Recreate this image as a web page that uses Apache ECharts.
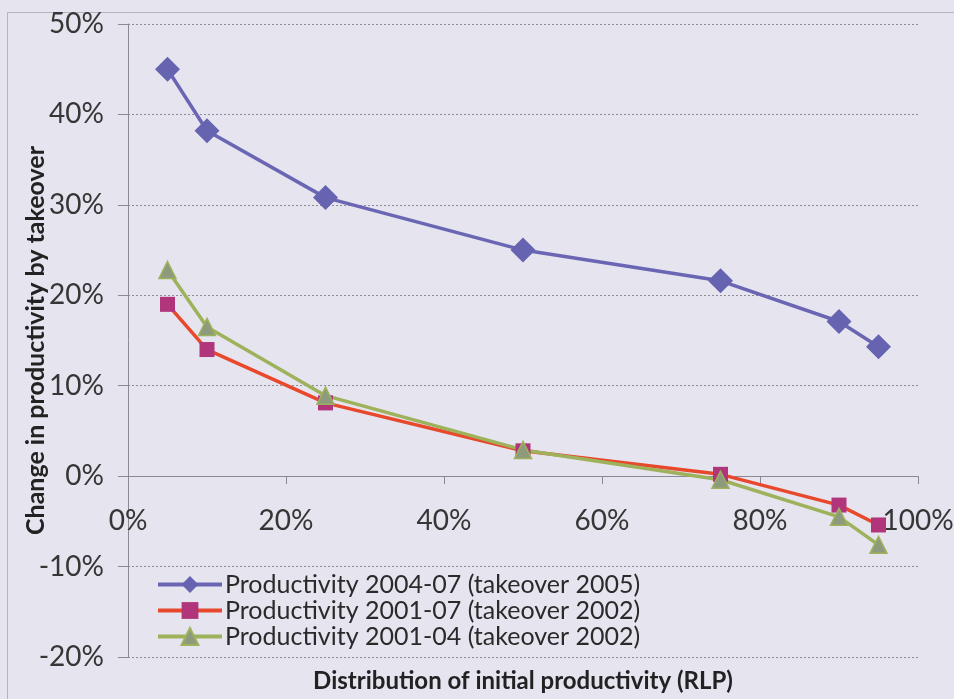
<!DOCTYPE html>
<html>
<head>
<meta charset="utf-8">
<script src="https://cdn.jsdelivr.net/npm/echarts@6/dist/echarts.min.js"></script>
<style>
  html, body { margin: 0; padding: 0; background: #e5e4ef; }
  #chart { width: 954px; height: 699px; }
</style>
</head>
<body>
<div id="chart"></div>
<script>
// Percentile of the initial productivity distribution (RLP)
const percentiles = [0.05, 0.10, 0.25, 0.50, 0.75, 0.90, 0.95];

// Change in productivity attributable to takeover, per percentile
const prod0407 = [0.450, 0.382, 0.308, 0.250, 0.216, 0.171, 0.143];
const prod0107 = [0.190, 0.140, 0.081, 0.028, 0.002, -0.032, -0.054];
const prod0104 = [0.228, 0.165, 0.089, 0.029, -0.004, -0.045, -0.076];

const seriesNames = [
  'Productivity 2004-07 (takeover 2005)',
  'Productivity 2001-07 (takeover 2002)',
  'Productivity 2001-04 (takeover 2002)'
];

const Y_MIN = -0.2, Y_MAX = 0.5;
const GRID = { left: 128, right: 36, top: 24, bottom: 42 };
const PLOT_H = 699 - GRID.top - GRID.bottom;
// the x axis sits on the zero line of the value axis
const zeroOffset = -PLOT_H * (0 - Y_MIN) / (Y_MAX - Y_MIN);

const pairs = vals => percentiles.map((p, i) => [p, vals[i]]);
const pct = v => Math.round(v * 100) + '%';
const FONT = 'Lato, "Open Sans", sans-serif';
const BG = '#e5e4ef';

const chart = echarts.init(document.getElementById('chart'));
chart.setOption({
  backgroundColor: BG,
  animation: false,
  textStyle: { fontFamily: FONT },
  graphic: [{
    type: 'rect',
    shape: { x: 7.5, y: 12.5, width: 1000, height: 1000 },
    style: { fill: null, stroke: '#b4b4be', lineWidth: 1 },
    silent: true
  }],
  grid: Object.assign({ containLabel: false, outerBoundsMode: 'none' }, GRID),
  xAxis: {
    type: 'value',
    min: 0, max: 1, interval: 0.2,
    position: 'bottom',
    offset: zeroOffset,
    name: 'Distribution of initial productivity (RLP)',
    nameLocation: 'middle',
    nameGap: 193,
    nameMoveOverlap: false,
    nameTextStyle: { fontFamily: FONT, fontWeight: 'bold', fontSize: 24, color: '#222' },
    axisLine: { onZero: false, lineStyle: { color: '#8a8a92', width: 1 } },
    axisTick: { show: true, length: 8, inside: false, lineStyle: { color: '#8a8a92' } },
    axisLabel: { formatter: pct, fontSize: 28, color: '#363636', margin: 31, fontFamily: FONT },
    splitLine: { show: false }
  },
  yAxis: {
    type: 'value',
    min: Y_MIN, max: Y_MAX, interval: 0.1,
    name: 'Change in productivity by takeover',
    nameLocation: 'middle',
    nameRotate: 90,
    nameGap: 80,
    nameMoveOverlap: false,
    nameTextStyle: { fontFamily: FONT, fontWeight: 'bold', fontSize: 25, color: '#222' },
    axisLine: { show: true, onZero: false, lineStyle: { color: '#8a8a92', width: 1 } },
    axisTick: { show: true, length: 10, lineStyle: { color: '#8a8a92' } },
    axisLabel: { formatter: pct, fontSize: 28, color: '#363636', margin: 24, fontFamily: FONT },
    splitLine: { show: true, lineStyle: { color: '#8c8c94', type: [2, 2], width: 1 } }
  },
  legend: {
    orient: 'vertical',
    left: 152, top: 568,
    itemWidth: 64, itemHeight: 21, itemGap: 1,
    padding: [4, 6, 4, 4],
    backgroundColor: BG,
    lineStyle: { width: 4 },
    textStyle: { fontFamily: FONT, fontSize: 25, lineHeight: 24, color: '#2a2a2a', padding: [0, 0, 0, -2] },
    data: seriesNames.map(name => ({ name, lineStyle: { width: 4 } }))
  },
  series: [
    {
      name: seriesNames[0], type: 'line', data: pairs(prod0407),
      symbol: 'diamond', symbolSize: 25,
      lineStyle: { color: '#6a66b4', width: 3.5 },
      itemStyle: { color: '#6663b0' }
    },
    {
      name: seriesNames[1], type: 'line', data: pairs(prod0107),
      symbol: 'rect', symbolSize: 15,
      lineStyle: { color: '#e8482c', width: 3.5 },
      itemStyle: { color: '#b0357a' }
    },
    {
      name: seriesNames[2], type: 'line', data: pairs(prod0104),
      symbol: 'triangle', symbolSize: 17,
      lineStyle: { color: '#9db25a', width: 3.5 },
      itemStyle: { color: '#8e9a7c', borderColor: '#9db25a', borderWidth: 1.5 }
    }
  ]
});
</script>
</body>
</html>
